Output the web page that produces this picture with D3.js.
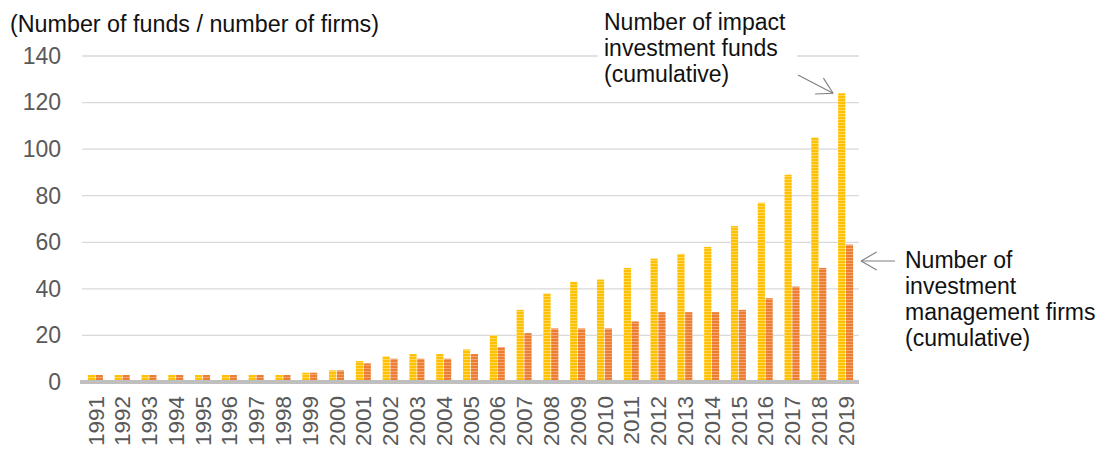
<!DOCTYPE html>
<html>
<head>
<meta charset="utf-8">
<script src="https://cdn.jsdelivr.net/npm/d3@7/dist/d3.min.js"></script>
<style>
  html, body { margin: 0; padding: 0; background: #ffffff; }
  svg { display: block; }
  text { font-family: "Liberation Sans", Arial, Helvetica, sans-serif; }
</style>
</head>
<body>
<svg id="chart" width="1104" height="450"></svg>
<script>
// Cumulative counts by year
const years = [1991, 1992, 1993, 1994, 1995, 1996, 1997, 1998, 1999, 2000,
               2001, 2002, 2003, 2004, 2005, 2006, 2007, 2008, 2009, 2010,
               2011, 2012, 2013, 2014, 2015, 2016, 2017, 2018, 2019];
const impactFunds = [3, 3, 3, 3, 3, 3, 3, 3, 4, 5,
                     9, 11, 12, 12, 14, 20, 31, 38, 43, 44,
                     49, 53, 55, 58, 67, 77, 89, 105, 124];
const managementFirms = [3, 3, 3, 3, 3, 3, 3, 3, 4, 5,
                         8, 10, 10, 10, 12, 15, 21, 23, 23, 23,
                         26, 30, 30, 30, 31, 36, 41, 49, 59];
const yTicks = [0, 20, 40, 60, 80, 100, 120, 140];
const seriesKeys = ["funds", "firms"];

const svg = d3.select("#chart");

const plot = { left: 82, right: 859, top: 56, bottom: 382 };

const x = d3.scaleBand()
  .domain(years)
  .range([plot.left, plot.right])
  .paddingInner(0.44)
  .paddingOuter(0.22);

const xSub = d3.scaleBand()
  .domain(seriesKeys)
  .range([0, x.bandwidth()])
  .paddingInner(0.08);

const y = d3.scaleLinear()
  .domain([0, 140])
  .range([plot.bottom, plot.top]);

// Striped fills for the bars
const defs = svg.append("defs");
function stripes(id, base, line) {
  const p = defs.append("pattern")
    .attr("id", id)
    .attr("patternUnits", "userSpaceOnUse")
    .attr("width", 10).attr("height", 3);
  p.append("rect").attr("width", 10).attr("height", 3).attr("fill", base);
  p.append("rect").attr("y", 2).attr("width", 10).attr("height", 1).attr("fill", line);
}
stripes("stripeFunds", "#FFC000", "#FFD85C");
stripes("stripeFirms", "#ED7D31", "#F4A574");

// Gridlines
svg.append("g")
  .selectAll("line")
  .data(yTicks.filter(d => d > 0))
  .join("line")
  .attr("x1", plot.left).attr("x2", plot.right)
  .attr("y1", d => y(d)).attr("y2", d => y(d))
  .attr("stroke", "#d9d9d9")
  .attr("stroke-width", 1.3);

// Y axis labels
const yAxis = d3.axisLeft(y).tickValues(yTicks).tickSize(0).tickPadding(0);
svg.append("g")
  .attr("transform", `translate(${plot.left - 21},0)`)
  .call(yAxis)
  .call(g => g.select(".domain").remove())
  .call(g => g.selectAll("text")
    .attr("fill", "#595959")
    .attr("font-size", 23)
    .attr("font-family", "'Liberation Sans', Arial, sans-serif"));

// Bars
const groups = svg.append("g")
  .selectAll("g")
  .data(years.map((yr, i) => ({ year: yr, funds: impactFunds[i], firms: managementFirms[i] })))
  .join("g")
  .attr("transform", d => `translate(${x(d.year)},0)`);

groups.append("rect")
  .attr("x", xSub("funds"))
  .attr("width", xSub.bandwidth())
  .attr("y", d => y(d.funds))
  .attr("height", d => y(0) - y(d.funds))
  .attr("fill", "url(#stripeFunds)");

groups.append("rect")
  .attr("x", xSub("firms"))
  .attr("width", xSub.bandwidth())
  .attr("y", d => y(d.firms))
  .attr("height", d => y(0) - y(d.firms))
  .attr("fill", "url(#stripeFirms)");

// Baseline
svg.append("line")
  .attr("x1", plot.left - 2).attr("x2", plot.right)
  .attr("y1", y(0)).attr("y2", y(0))
  .attr("stroke", "#bfbfbf")
  .attr("stroke-width", 4);

// X axis labels (rotated years)
const xAxis = d3.axisBottom(x).tickSize(0).tickPadding(0);
svg.append("g")
  .attr("transform", `translate(0,${y(0)})`)
  .call(xAxis)
  .call(g => g.select(".domain").remove())
  .call(g => g.selectAll("text")
    .attr("fill", "#595959")
    .attr("font-size", 22.5)
    .attr("font-family", "'Liberation Sans', Arial, sans-serif")
    .attr("text-anchor", "end")
    .attr("transform", "rotate(-90)")
    .attr("x", -14)
    .attr("y", 0)
    .attr("dy", "0.36em"));

// Axis title
svg.append("text")
  .attr("x", 10).attr("y", 32)
  .attr("font-size", 23.3)
  .attr("fill", "#111111")
  .text("(Number of funds / number of firms)");

// Callout helpers
function arrow(fromX, fromY, tipX, tipY) {
  const ang = Math.atan2(tipY - fromY, tipX - fromX);
  const len = 18, spread = Math.PI / 6;
  const g = svg.append("g")
    .attr("stroke", "#7f7f7f").attr("stroke-width", 1.1).attr("fill", "none");
  g.append("line").attr("x1", fromX).attr("y1", fromY).attr("x2", tipX).attr("y2", tipY);
  [ang + Math.PI - spread, ang + Math.PI + spread].forEach(a => {
    g.append("line")
      .attr("x1", tipX).attr("y1", tipY)
      .attr("x2", tipX + len * Math.cos(a))
      .attr("y2", tipY + len * Math.sin(a));
  });
}
function label(lines, lx, ly, lh) {
  const t = svg.append("text")
    .attr("font-size", 23)
    .attr("fill", "#111111");
  lines.forEach((s, i) => {
    t.append("tspan").attr("x", lx).attr("y", ly + i * lh).text(s);
  });
}

const last = years[years.length - 1];

// Funds callout (white box hides the gridline behind the text)
svg.append("rect")
  .attr("x", 598).attr("y", 6)
  .attr("width", 199).attr("height", 88)
  .attr("fill", "#ffffff");
label(["Number of impact", "investment funds", "(cumulative)"], 604, 30, 26.2);
arrow(798, 75, x(last) + xSub("funds") - 5, y(impactFunds[impactFunds.length - 1]));

// Firms callout
label(["Number of", "investment", "management firms", "(cumulative)"], 905, 268, 26);
arrow(895, 261, x(last) + x.bandwidth() + 8, 261);
</script>
</body>
</html>
